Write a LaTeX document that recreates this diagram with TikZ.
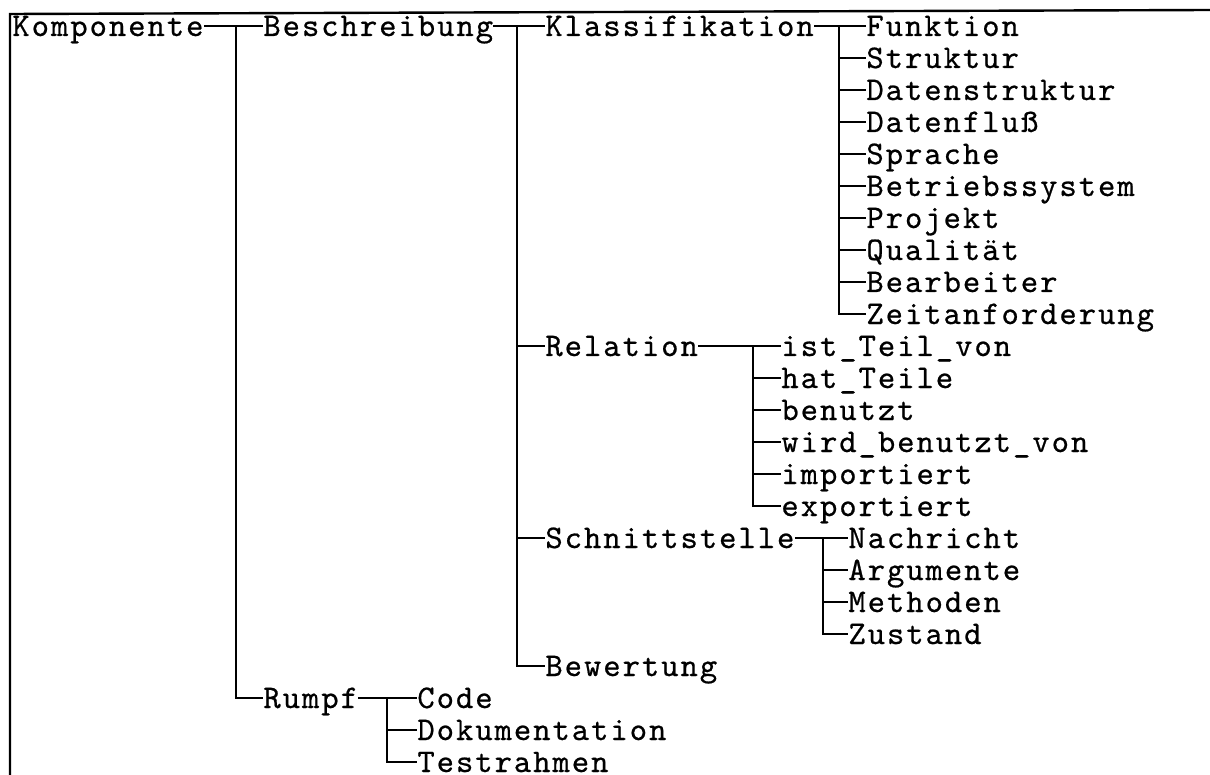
\documentclass[tikz,border=0pt]{standalone}
\usepackage{fontspec}
\newfontfamily\treefont{lmmono10-regular}[Extension=.otf,FakeBold=0.6,LetterSpace=6]
\tikzset{
  item/.style={anchor=west,inner sep=0pt,text height=10pt,text depth=0pt,
    font=\treefont\fontsize{16.5}{18}\selectfont},
  branch/.style={line width=0.8pt},
  frame/.style={line width=1.2pt}
}
\begin{document}
\begin{tikzpicture}[x=0.5pt,y=-0.5pt]
  \useasboundingbox (0,0) rectangle (1210,775);
  \draw[frame] (10,775) -- (10,14) -- (1210,10);
  % Wurzel und erste Ebene
  \node[item] (root) at (12,26) {Komponente};
  \node[item] (be) at (263,26) {Beschreibung};
  \node[item] (ru) at (263,698) {Rumpf};
  % Beschreibung
  \node[item] (kl) at (545,26) {Klassifikation};
  \node[item] (re) at (545,346) {Relation};
  \node[item] (sch) at (545,538) {Schnittstelle};
  \node[item] (bw) at (545,666) {Bewertung};
  % Klassifikation
  \node[item] (fu) at (866,26) {Funktion};
  \node[item] (st) at (866,58) {Struktur};
  \node[item] (ds) at (866,90) {Datenstruktur};
  \node[item] (df) at (866,122) {Datenfluß};
  \node[item] (sp) at (866,154) {Sprache};
  \node[item] (bs) at (866,186) {Betriebssystem};
  \node[item] (pr) at (866,218) {Projekt};
  \node[item] (qu) at (866,250) {Qualität};
  \node[item] (ba) at (866,282) {Bearbeiter};
  \node[item] (za) at (866,314) {Zeitanforderung};
  % Relation
  \node[item] (itv) at (781,346) {ist\_Teil\_von};
  \node[item] (ht) at (781,378) {hat\_Teile};
  \node[item] (bn) at (781,410) {benutzt};
  \node[item] (wbv) at (781,442) {wird\_benutzt\_von};
  \node[item] (im) at (781,474) {importiert};
  \node[item] (ex) at (781,506) {exportiert};
  % Schnittstelle
  \node[item] (na) at (848,538) {Nachricht};
  \node[item] (ar) at (848,570) {Argumente};
  \node[item] (me) at (848,602) {Methoden};
  \node[item] (zu) at (848,634) {Zustand};
  % Rumpf
  \node[item] (co) at (417,698) {Code};
  \node[item] (do) at (417,730) {Dokumentation};
  \node[item] (te) at (417,762) {Testrahmen};
  % Verzweigungen
  \coordinate (jroot) at (236,26);
  \coordinate (jbe) at (517,26);
  \coordinate (jkl) at (839,26);
  \coordinate (jre) at (753,346);
  \coordinate (jsch) at (823,538);
  \coordinate (jru) at (387,698);
  \draw[branch] (root.east) -- (be.west);
  \draw[branch] (jroot) |- (ru.west);
  \draw[branch] (be.east) -- (kl.west);
  \draw[branch] (jbe) |- (re.west);
  \draw[branch] (jbe) |- (sch.west);
  \draw[branch] (jbe) |- (bw.west);
  \draw[branch] (kl.east) -- (fu.west);
  \draw[branch] (jkl) |- (st.west);
  \draw[branch] (jkl) |- (ds.west);
  \draw[branch] (jkl) |- (df.west);
  \draw[branch] (jkl) |- (sp.west);
  \draw[branch] (jkl) |- (bs.west);
  \draw[branch] (jkl) |- (pr.west);
  \draw[branch] (jkl) |- (qu.west);
  \draw[branch] (jkl) |- (ba.west);
  \draw[branch] (jkl) |- (za.west);
  \draw[branch] (re.east) -- (itv.west);
  \draw[branch] (jre) |- (ht.west);
  \draw[branch] (jre) |- (bn.west);
  \draw[branch] (jre) |- (wbv.west);
  \draw[branch] (jre) |- (im.west);
  \draw[branch] (jre) |- (ex.west);
  \draw[branch] (sch.east) -- (na.west);
  \draw[branch] (jsch) |- (ar.west);
  \draw[branch] (jsch) |- (me.west);
  \draw[branch] (jsch) |- (zu.west);
  \draw[branch] (ru.east) -- (co.west);
  \draw[branch] (jru) |- (do.west);
  \draw[branch] (jru) |- (te.west);
\end{tikzpicture}
\end{document}
